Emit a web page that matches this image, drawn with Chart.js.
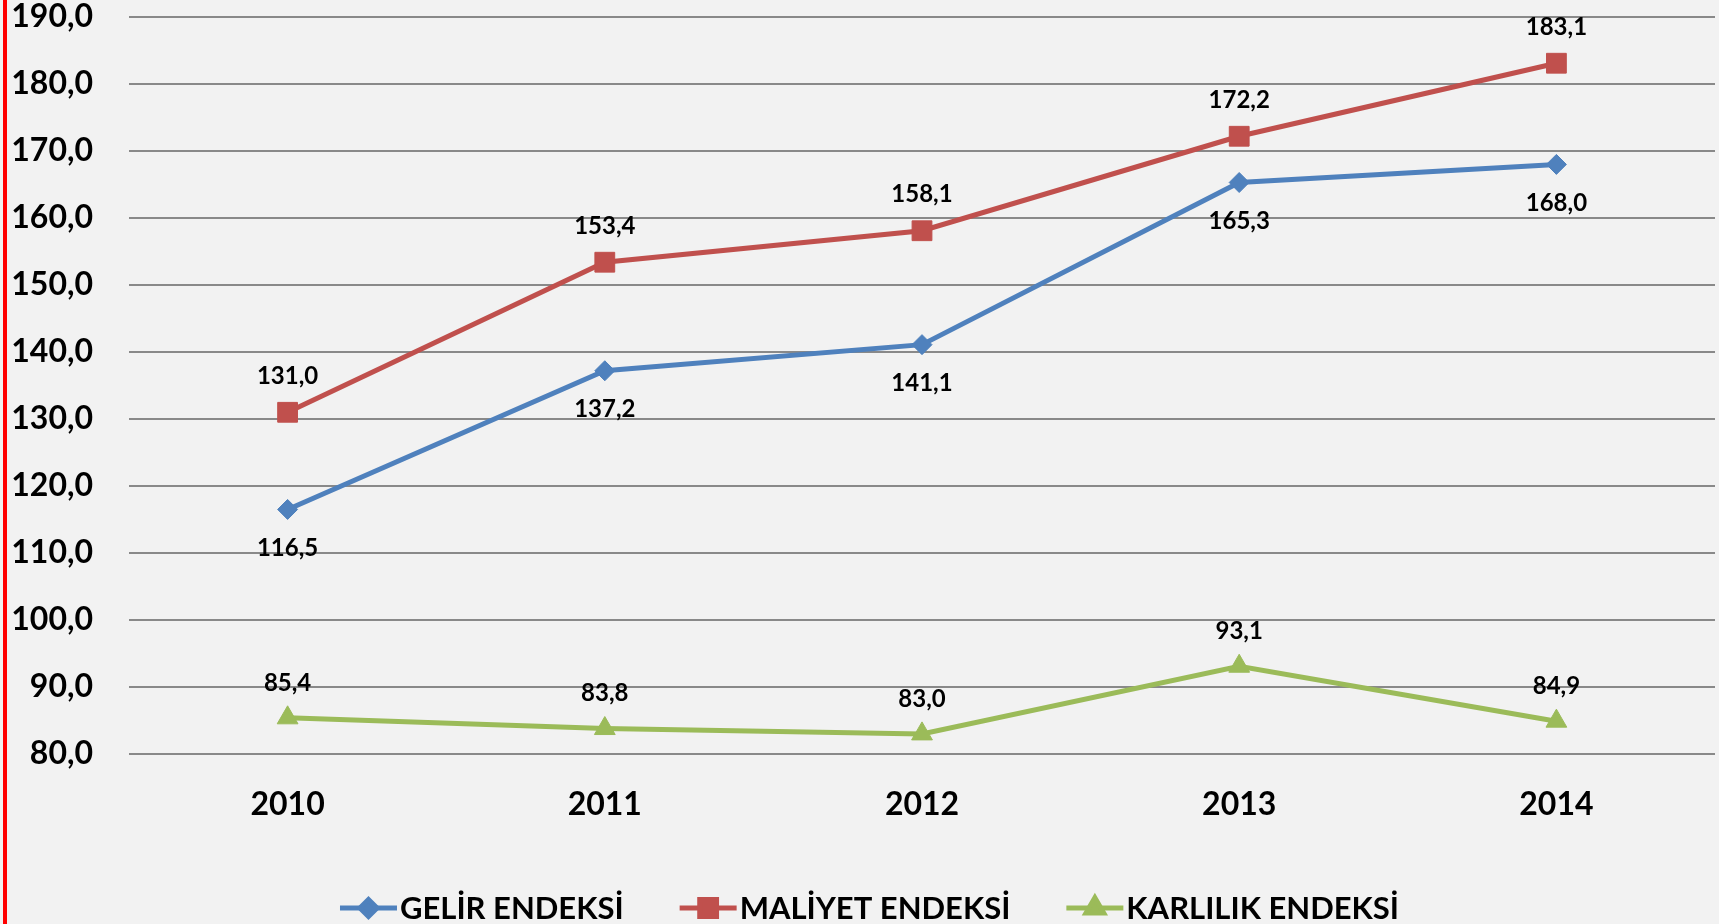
<!DOCTYPE html>
<html>
<head>
<meta charset="utf-8">
<script src="https://cdn.jsdelivr.net/npm/chart.js@4.4.1/dist/chart.umd.min.js"></script>
<style>
    html, body { margin: 0; padding: 0; background: #f2f2f2; overflow: hidden; }
    #wrap { width: 1719px; height: 924px; position: relative; }
    canvas { display: block; }
</style>
</head>
<body>
<div id="wrap"><canvas id="endeksChart"></canvas></div>
<script>
// veriler
const years = ["2010", "2011", "2012", "2013", "2014"];
const gelirEndeksi = [116.5, 137.2, 141.1, 165.3, 168.0];
const maliyetEndeksi = [131.0, 153.4, 158.1, 172.2, 183.1];
const karlilikEndeksi = [85.4, 83.8, 83.0, 93.1, 84.9];
const seriesNames = ["GELİR ENDEKSİ", "MALİYET ENDEKSİ", "KARLILIK ENDEKSİ"];
const yMin = 80, yMax = 190, yStep = 10;

const COLORS = ["#4F81BD", "#C0504D", "#9BBB59"];
const FONT = "Lato, 'Open Sans', sans-serif";

const fmt = (v) => Number(v).toFixed(1).replace(".", ",");

// arka plan + sol kırmızı çizgi
const backgroundPlugin = {
    id: "backgroundPlugin",
    beforeDraw(chart) {
        const ctx = chart.ctx;
        ctx.save();
        ctx.fillStyle = "#f2f2f2";
        ctx.fillRect(0, 0, chart.width, chart.height);
        ctx.fillStyle = "#ff0000";
        ctx.fillRect(3, 0, 4, chart.height);
        ctx.restore();
    }
};

// veri etiketleri: kırmızı ve yeşil üstte, mavi altta
const labelOffsets = [39, -36, -35];
const dataLabelPlugin = {
    id: "dataLabelPlugin",
    afterDatasetsDraw(chart) {
        const ctx = chart.ctx;
        ctx.save();
        ctx.font = "bold 24px " + FONT;
        ctx.fillStyle = "#000";
        ctx.textAlign = "center";
        ctx.textBaseline = "middle";
        chart.data.datasets.forEach((ds, i) => {
            const meta = chart.getDatasetMeta(i);
            meta.data.forEach((pt, j) => {
                ctx.fillText(fmt(ds.data[j]), pt.x, pt.y + labelOffsets[i]);
            });
        });
        ctx.restore();
    }
};

// alt lejant: çizgi + işaret + metin
const legendPlugin = {
    id: "legendPlugin",
    afterDraw(chart) {
        const ctx = chart.ctx;
        const markW = 57, gapText = 3, gapItem = 56, cy = 908;
        ctx.save();
        ctx.font = "bold 31px " + FONT;
        const widths = chart.data.datasets.map((ds) => markW + gapText + ctx.measureText(ds.label).width);
        const total = widths.reduce((a, b) => a + b, 0) + gapItem * (widths.length - 1);
        let x = chart.width / 2 - total / 2 + 10;
        chart.data.datasets.forEach((ds, i) => {
            ctx.strokeStyle = ds.borderColor;
            ctx.lineWidth = 5;
            ctx.beginPath();
            ctx.moveTo(x, cy);
            ctx.lineTo(x + markW, cy);
            ctx.stroke();
            ctx.fillStyle = ds.borderColor;
            Chart.helpers.drawPoint(ctx, {
                pointStyle: ds.pointStyle,
                radius: ds.pointRadius * 0.85,
                borderWidth: 1
            }, x + markW / 2, cy);
            ctx.fillStyle = "#000";
            ctx.textAlign = "left";
            ctx.textBaseline = "middle";
            ctx.fillText(ds.label, x + markW + gapText, cy + 1);
            x += widths[i] + gapItem;
        });
        ctx.restore();
    }
};

const ctx = document.getElementById("endeksChart").getContext("2d");
new Chart(ctx, {
    type: "line",
    data: {
        labels: years,
        datasets: [
            {
                label: seriesNames[0],
                data: gelirEndeksi,
                borderColor: COLORS[0],
                backgroundColor: COLORS[0],
                borderWidth: 5,
                pointStyle: "rectRot",
                pointRadius: 10,
                pointBorderWidth: 1,
                tension: 0
            },
            {
                label: seriesNames[1],
                data: maliyetEndeksi,
                borderColor: COLORS[1],
                backgroundColor: COLORS[1],
                borderWidth: 5,
                pointStyle: "rect",
                pointRadius: 14,
                pointBorderWidth: 1,
                tension: 0
            },
            {
                label: seriesNames[2],
                data: karlilikEndeksi,
                borderColor: COLORS[2],
                backgroundColor: COLORS[2],
                borderWidth: 5,
                pointStyle: "triangle",
                pointRadius: 12,
                pointBorderWidth: 1,
                tension: 0
            }
        ]
    },
    options: {
        responsive: true,
        maintainAspectRatio: false,
        animation: false,
        layout: {
            autoPadding: false,
            padding: { top: 17, right: 4, bottom: 100, left: 0 }
        },
        scales: {
            x: {
                offset: true,
                grid: { display: false },
                border: { display: false },
                ticks: {
                    padding: 27,
                    color: "#000",
                    font: { family: FONT, size: 32, weight: "bold", lineHeight: 1 }
                },
                afterFit(axis) { axis.height = 70; }
            },
            y: {
                min: yMin,
                max: yMax,
                ticks: {
                    stepSize: yStep,
                    padding: 0,
                    color: "#000",
                    font: { family: FONT, size: 32, weight: "bold", lineHeight: 1 },
                    callback: (v) => fmt(v)
                },
                grid: { color: "#898989", lineWidth: 2, drawTicks: true, tickLength: 36, tickColor: "rgba(0,0,0,0)" },
                border: { display: false },
                afterFit(axis) { axis.width = 129; }
            }
        },
        plugins: {
            legend: { display: false },
            tooltip: { enabled: false }
        }
    },
    plugins: [backgroundPlugin, dataLabelPlugin, legendPlugin]
});
</script>
</body>
</html>
